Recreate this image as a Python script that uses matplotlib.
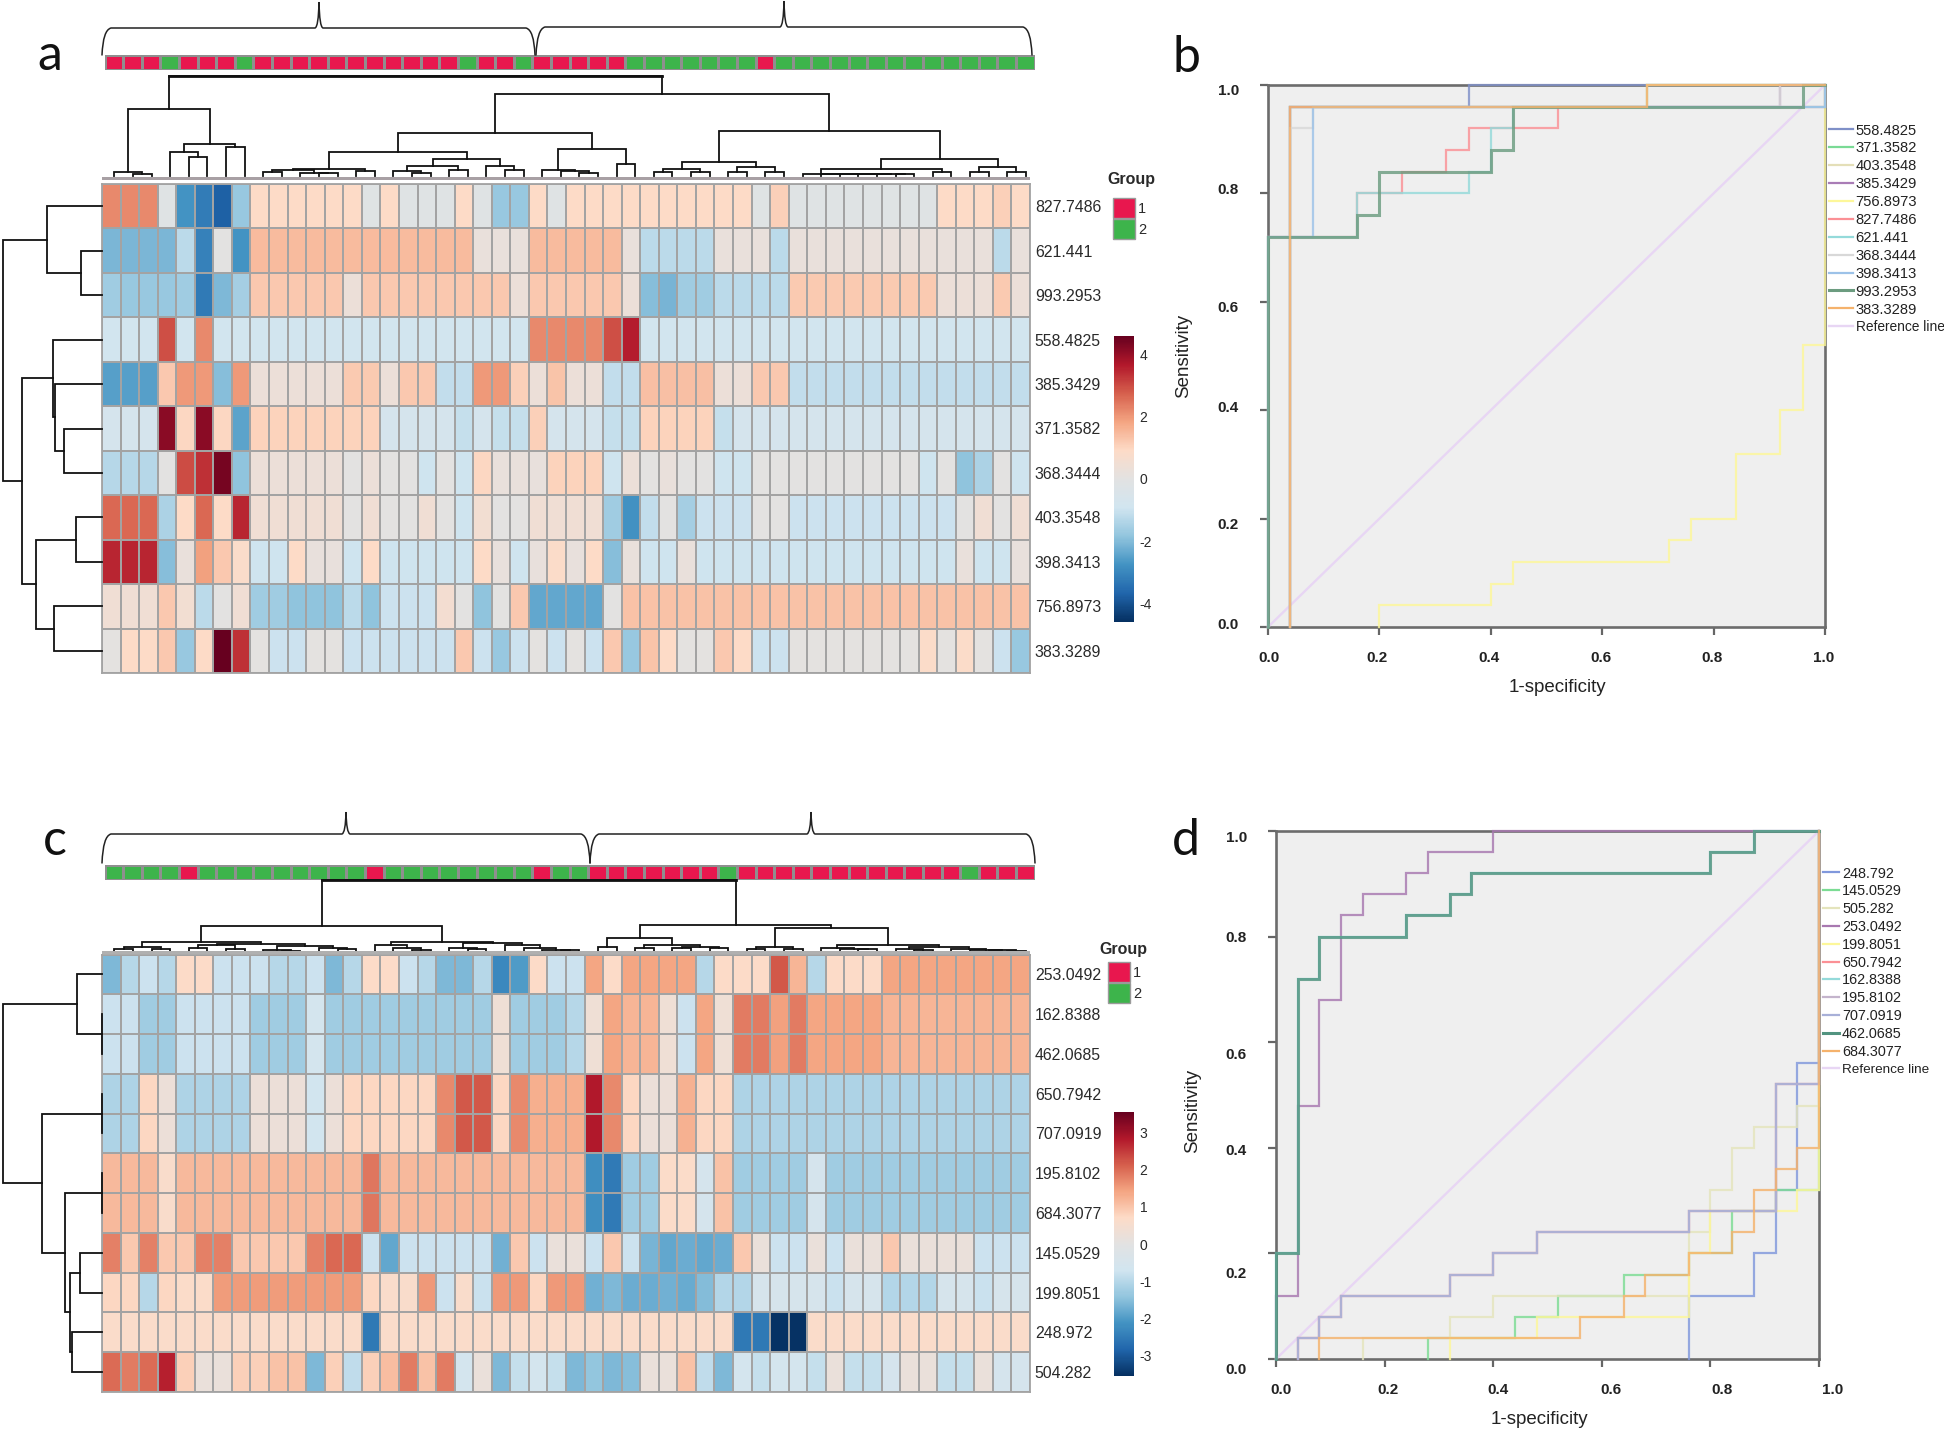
import matplotlib
matplotlib.use("Agg")
import matplotlib.pyplot as plt
import numpy as np
from matplotlib.colors import LinearSegmentedColormap, ListedColormap, Normalize
from matplotlib.lines import Line2D
from matplotlib.patches import PathPatch, Rectangle
from matplotlib.path import Path
from matplotlib.transforms import ScaledTranslation

plt.rcParams['font.family'] = ['Liberation Sans', 'DejaVu Sans']
plt.rcParams['axes.unicode_minus'] = False

W, H = 1944, 1429

# ---------------- panel a data ----------------
rows_a = ['827.7486', '621.441', '993.2953', '558.4825', '385.3429', '371.3582',
          '368.3444', '403.3548', '398.3413', '756.8973', '383.3289']
heat_a = [
 [2.2,2.2,2.2,-.15,-2.75,-3.2,-3.75,-1.75,.9,.9, .9,.9,.9,.9,-.15,.9,-.15,-.15,-.15,.9,
  -.15,-1.75,-1.75,.9,-.15,.9,.9,.9,.9,.9, .9,.9,.9,.9,.9,-.15,1.1,-.15,-.15,-.15,
  -.15,-.15,-.15,-.15,-.15,.9,.9,.9,1.1,.9],
 [-2.1,-2.1,-2.1,-2.1,-1.25,-3.1,0,-2.75,1.45,1.45, 1.45,1.45,1.45,1.45,1.45,1.45,1.45,1.45,1.45,1.45,
  .25,.25,.25,1.45,1.45,1.45,1.45,1.45,.25,-1.25, -1.25,-1.25,-1.25,.25,.25,.25,-1.25,.25,.25,.25,
  .25,.25,.25,.25,.25,.25,.25,.25,-1.25,.25],
 [-1.65,-1.75,-1.75,-1.75,-1.65,-3.25,-2.05,-1.55,1.25,1.25, 1.25,1.25,1.25,.35,1.25,1.25,1.25,1.25,1.25,1.25,
  1.25,1.25,.35,1.25,1.25,1.25,1.25,1.25,.35,-1.95, -2.15,-1.65,-1.65,-1.25,-1.25,-1.25,-1.25,1.2,1.2,1.2,
  1.2,1.2,1.2,1.2,1.2,.35,.35,.35,1.2,.35],
 [-.85,-.85,-.85,2.95,-.85,2.2,-.85,-.85,-.85,-.85, -.85,-.85,-.85,-.85,-.85,-.85,-.85,-.85,-.85,-.85,
  -.85,-.85,-.85,2.2,2.2,2.2,2.2,2.95,3.6,-.85, -.85,-.85,-.85,-.85,-.85,-.85,-.85,-.85,-.85,-.85,
  -.85,-.85,-.85,-.85,-.85,-.85,-.85,-.85,-.85,-.85],
 [-2.55,-2.55,-2.55,1.25,2.0,2.0,-1.95,2.0,.35,.35, .35,.35,.35,1.2,1.2,.35,1.25,1.25,-1.15,-1.15,
  2.0,2.0,1.1,.35,1.3,.35,.35,-1.15,-1.15,1.4, 1.4,1.4,1.4,.35,.35,1.25,1.25,-1.15,-1.15,-1.15,
  -1.15,-1.15,-1.15,-1.15,-1.15,-1.15,-1.15,-1.15,-1.15,-1.15],
 [-.7,-.7,-.7,4.15,1.0,4.15,1.0,-2.45,1.05,1.05, 1.05,1.05,1.05,1.05,1.05,-.7,-.7,-.7,-.7,-1.1,
  -.7,-1.1,-1.1,1.1,-.7,-.7,-.7,-1.1,-1.1,1.05, 1.05,1.05,1.05,-1.1,-.7,-.7,-.7,-.7,-.7,-.7,
  -.7,-.7,-.7,-.7,-.7,-.7,-.7,-.7,-.7,-.7],
 [-1.3,-1.3,-1.3,0,3.0,3.35,4.4,-1.85,.35,.35, .35,.35,.35,0,.35,0,0,-.95,0,-.95,
  1.0,.25,.25,.2,1.05,1.05,1.05,-.95,.35,0, .25,0,0,-.95,-.95,0,0,0,0,0,
  0,0,0,0,-.95,0,-1.85,-1.45,0,-.95],
 [2.65,2.65,2.65,-1.45,.9,2.65,.9,3.5,.5,.5, .5,.5,.5,0,.5,0,0,.5,0,-.95,
  .55,0,0,.5,.5,.5,.5,-1.65,-2.8,-1.15, 0,-1.55,-1.0,-1.0,-1.0,0,0,-1.0,-1.0,-1.0,
  -1.0,-1.0,-1.0,-1.0,-1.0,-1.0,0,.5,0,.5],
 [3.5,3.5,3.5,-1.95,.25,1.9,1.25,.8,-.95,-.95, .9,.2,.2,-.95,.9,-.95,-.95,-.95,-.95,-.95,
  .9,.2,-.95,.2,.85,.2,.9,-1.95,.25,-.95, -.95,.25,-.95,-.95,-.95,-.95,-.95,-.95,-.95,-.95,
  -.95,-.95,-.95,-.95,-.95,-.95,.25,-.95,-.95,.2],
 [.5,.5,.5,1.25,.55,-1.25,0,.5,-1.65,-1.65, -1.85,-1.85,-1.85,-1.25,-1.85,-1.0,-1.0,-1.0,.6,0,
  -1.85,0,1.25,-2.4,-2.4,-2.4,-2.4,0,1.35,1.35, 1.35,1.35,1.35,1.35,1.35,1.35,1.35,1.35,1.35,1.35,
  1.35,1.35,1.35,1.35,1.35,1.35,1.35,1.35,1.35,1.35],
 [.05,.9,.9,1.25,-1.75,.9,4.6,3.35,.05,-1.0, -1.0,.05,.05,-1.0,-1.0,-1.0,-1.0,-1.0,-1.0,1.25,
  -1.0,-1.75,-1.0,.05,-1.0,.05,-1.0,1.25,-1.75,1.3, .9,.05,.05,1.25,.9,-1.0,-1.0,.05,.05,.05,
  .05,.05,.05,.05,.85,.05,.85,.05,-1.0,-1.75],
]
group_a = [1,1,1,2,1,1,1,2,1,1, 1,1,1,1,1,1,1,1,1,2, 1,1,2,1,1,1,1,1,2,2,
           2,2,2,2,2,1,2,2,2,2, 2,2,2,2,2,2,2,2,2,2]
tree_a_top = (299,
  (199, (11, 0, (5, 1, 2)), (96, (71, 3, (57, 4, 5)), (86, 6, 7))),
  (246,
    (128,
      (72,
        (22, (17, (12, 8, 9), (10, 10, (8, 11, 12))), (15, 13, 14)),
        (51, (30, (15, 15, (8, 16, 17)), (19, 18, 19)), (30, 20, (19, 21, 22)))),
      (80, (19, 23, (14, 24, (8, 25, 26))), (37, 27, 28))),
    (134,
      (42, (20, (12, 29, 30), (12, 31, 32)), (28, (12, 33, 34), (12, 35, 36))),
      (51,
        (20, (6, 37, (6, 38, (6, 39, (6, 40, (6, 41, (5, 42, 43)))))), (12, 44, 45)),
        (26, (12, 46, 47), (12, 48, 49))))))
tree_a_left = (295,
  (165, 0, (62, 1, 2)),
  (240,
    (145, 3, (140, 4, (112, 5, 6))),
    (197, (77, 7, 8), (143, 9, 10))))

# ---------------- panel c data ----------------
rows_c = ['253.0492', '162.8388', '462.0685', '650.7942', '707.0919', '195.8102',
          '684.3077', '145.0529', '199.8051', '248.972', '504.282']
heat_c = [
 [-1.6,-1.0,-.75,-1.0,.68,.68,-.75,-.75,-.75,-1.0, -1.0,-.75,-1.6,-1.0,.68,.68,-.75,-1.0,-1.6,-1.6,
  -1.0,-2.3,-2.0,.68,-.75,-.75,1.4,.68,1.4,1.4, 1.4,1.4,-1.0,.68,.68,.68,2.2,1.2,-1.0,.68,
  .68,.68,1.4,1.4,1.4,1.4,1.4,1.4,1.4,1.4],
 [-.75,-.75,-1.25,-1.25,-.75,-.75,-.75,-.75,-1.25,-1.25, -1.25,-.6,-1.25,-1.25,-1.25,-1.25,-1.25,-1.25,-1.25,-1.25,
  -1.25,.35,-1.25,-1.25,-1.25,-1.0,.35,1.4,1.2,1.2, .35,-.75,1.4,.35,1.85,1.85,1.45,1.85,1.4,1.4,
  1.4,1.4,1.2,1.2,1.2,1.2,1.2,1.2,1.2,1.2],
 [-.75,-.75,-1.25,-1.25,-.75,-.75,-.75,-.75,-1.25,-1.25, -1.25,-.6,-1.25,-1.25,-1.25,-1.25,-1.25,-1.25,-1.25,-1.25,
  -1.25,.35,-1.25,-1.25,-1.25,-1.0,.35,1.4,1.2,1.2, .35,-.75,1.4,.35,1.85,1.85,1.45,1.85,1.4,1.4,
  1.4,1.4,1.2,1.2,1.2,1.2,1.2,1.2,1.2,1.2],
 [-1.1,-1.1,.75,.25,-1.1,-1.1,-1.1,-1.1,.25,.25, .25,-.65,.25,.75,.75,.75,.75,.75,1.7,2.2,
  2.2,.75,1.7,1.3,1.3,1.3,2.85,1.7,.75,.25, .25,1.25,.75,.75,-1.1,-1.1,-1.1,-1.1,-1.1,-1.1,
  -1.1,-1.1,-1.1,-1.1,-1.1,-1.1,-1.1,-1.1,-1.1,-1.1],
 [-1.1,-1.1,.75,.25,-1.1,-1.1,-1.1,-1.1,.25,.25, .25,-.65,.25,.75,.75,.75,.75,.75,1.7,2.2,
  2.2,.75,1.7,1.3,1.3,1.3,2.85,1.7,.75,.25, .25,1.25,.75,.75,-1.1,-1.1,-1.1,-1.1,-1.1,-1.1,
  -1.1,-1.1,-1.1,-1.1,-1.1,-1.1,-1.1,-1.1,-1.1,-1.1],
 [1.15,1.15,1.15,.6,1.15,1.15,1.15,1.15,1.15,1.15, 1.15,1.15,1.15,1.15,1.9,1.15,1.15,1.15,1.15,1.15,
  1.15,1.15,1.15,1.15,1.15,1.15,-2.2,-2.5,-1.25,-1.25, .65,.65,-.55,1.05,-1.25,-1.25,-1.25,-1.25,-.55,-1.25,
  -1.25,-1.25,-1.25,-1.25,-1.25,-1.25,-1.25,-1.25,-1.25,-1.25],
 [1.15,1.15,1.15,.6,1.15,1.15,1.15,1.15,1.15,1.15, 1.15,1.15,1.15,1.15,1.9,1.15,1.15,1.15,1.15,1.15,
  1.15,1.15,1.15,1.15,1.15,1.15,-2.2,-2.5,-1.25,-1.25, .65,.65,-.55,1.05,-1.25,-1.25,-1.25,-1.25,-.55,-1.25,
  -1.25,-1.25,-1.25,-1.25,-1.25,-1.25,-1.25,-1.25,-1.25,-1.25],
 [1.8,.95,1.8,.95,.95,1.8,1.8,.95,.95,.95, .95,1.8,2.05,2.05,-.75,-1.85,-.75,-.75,-.75,-.75,
  -.75,-1.7,.95,-.75,.2,.2,-.75,.95,-.75,-1.65, -1.85,-1.75,-1.85,-1.75,.95,.2,-.75,-.75,.2,-.75,
  .2,.2,.95,.2,.2,.2,.2,-.75,-.75,-.75],
 [.75,.75,-1.0,.75,.65,.65,1.5,1.5,1.5,1.5, 1.5,1.5,1.5,1.5,.75,.6,.6,1.55,-.75,.6,
  -.8,1.55,1.55,.75,1.55,1.55,-1.7,-1.6,-1.75,-1.75, -1.7,-1.8,-1.55,-1.05,-1.05,-.5,-.5,-.5,-.5,-.8,
  -.5,-.5,-1.05,-1.05,-1.05,-.5,-.5,-.8,-.5,-.5],
 [.62,.62,.62,.62,.62,.62,.62,.62,.62,.62, .62,.62,.62,.62,-2.55,.62,.62,.62,.62,.62,
  .62,.62,.62,.62,.62,.62,.62,.62,.62,.62, .62,.62,.62,.62,-2.55,-2.55,-3.5,-3.5,.62,.62,
  .62,.62,.62,.62,.62,.62,.62,.62,.62,.62],
 [2.0,1.85,2.0,2.75,.85,.2,.2,.85,.85,1.05, 1.05,-1.6,.85,-.9,.85,1.1,1.85,1.05,1.85,-.6,
  .2,-1.6,-.85,-.6,-.85,-1.6,-1.4,-1.6,-1.5,.2, .2,1.05,-.9,-1.6,-.6,-.85,-.6,-.6,-.85,.2,
  -.85,-.85,-.55,.2,.2,-.85,-.85,.2,-.55,-.55],
]
group_c = [2,2,2,2,1,2,2,2,2,2, 2,2,2,2,1,2,2,2,2,2, 2,2,2,1,2,2,1,1,1,1,
           1,1,1,2,1,1,1,1,1,1, 1,1,1,1,1,1,2,1,1,1]
tree_c_top = (215,
  (76,
    (30,
      (15, (8, 0, 1), (8, 2, 3)),
      (23, (19, (12, 4, 5), (9, 6, 7)), (17, (4, 8, (2, 9, 10)), (12, 11, (8, 12, 13))))),
    (30,
      (20, 14, (11, 15, (6, 16, 17))),
      (25, (12, 18, (8, 19, 20)), (19, 21, (10, 22, (6, 23, (5, 24, 25))))))),
  (80,
    (41, (15, 26, 27), (20, (12, 28, 29), (14, (10, 30, 31), (10, 32, 33)))),
    (70,
      (15, (8, 34, 35), (8, 36, 37)),
      (19, (12, 38, (8, 39, (7, 40, 41))),
           (14, (8, 42, (5, 43, 44)), (8, 45, (5, 46, (4, 47, (3, 48, 49)))))))))
tree_c_left = (295,
  (75, 0, (0, 1, 2)),
  (178,
    (0, 3, 4),
    (110, (0, 5, 6), (95, (65, 7, 8), (88, 9, 10)))))

# ---------------- ROC curves, panel b ----------------
roc_b_labels = ['558.4825', '371.3582', '403.3548', '385.3429', '756.8973', '827.7486',
                '621.441', '368.3444', '398.3413', '993.2953', '383.3289']
roc_b_colors = ['#7f90c8', '#7ada95', '#e4dfb8', '#a97cb6', '#fdf79a', '#fb9095',
                '#94dada', '#d8d8d8', '#9cc2e8', '#6c9c80', '#f5b26c']
roc_b_x = [
 [.04,.04,.36,.36,1],
 [.04,.04,.68,.68,1],
 [.04,.04,.68,.68,1],
 [.04,.04,.92,.92,1],
 [.2,.2,.4,.4,.44,.44,.72,.72,.76,.76,.84,.84,.92,.92,.96,.96,1,1],
 [0,0,.16,.16,.24,.24,.32,.32,.36,.36,.52,.52,1,1],
 [0,0,.16,.16,.36,.36,.40,.40,.44,.44,1,1],
 [.04,.04,.08,.08,.92,.92,1],
 [0,0,.08,.08,1,1],
 [0,0,.16,.16,.2,.2,.40,.40,.44,.44,.96,.96,1],
 [.04,.04,.68,.68,1],
]
roc_b_y = [
 [0,.96,.96,1,1],
 [0,.96,.96,1,1],
 [0,.96,.96,1,1],
 [0,.96,.96,1,1],
 [0,.04,.04,.08,.08,.12,.12,.16,.16,.2,.2,.32,.32,.40,.40,.52,.52,1],
 [0,.72,.72,.8,.8,.84,.84,.88,.88,.92,.92,.96,.96,1],
 [0,.72,.72,.80,.80,.84,.84,.92,.92,.96,.96,1],
 [0,.92,.92,.96,.96,1,1],
 [0,.72,.72,.96,.96,1],
 [0,.72,.72,.76,.76,.84,.84,.88,.88,.96,.96,1,1],
 [0,.96,.96,1,1],
]
# ---------------- ROC curves, panel d ----------------
roc_d_labels = ['248.792', '145.0529', '505.282', '253.0492', '199.8051', '650.7942',
                '162.8388', '195.8102', '707.0919', '462.0685', '684.3077']
roc_d_colors = ['#8098dc', '#7cdc94', '#e4e4bc', '#a878b0', '#fdf79a', '#fb9095',
                '#94dada', '#c4b4cc', '#a8b0d8', '#529480', '#f5b26c']
low_x = [.04,.04,.08,.08,.12,.12,.32,.32,.40,.40,.48,.48,.76,.76,.92,.92,1,1]
low_y = [0,.04,.04,.08,.08,.12,.12,.16,.16,.20,.20,.24,.24,.28,.28,.52,.52,1]
green_x = [0,0,.04,.04,.08,.08,.24,.24,.32,.32,.36,.36,.80,.80,.88,.88,1]
green_y = [0,.2,.2,.72,.72,.8,.8,.84,.84,.88,.88,.92,.92,.96,.96,1,1]
roc_d_x = [
 [.76,.76,.88,.88,.92,.92,.96,.96,1,1],
 [.28,.28,.44,.44,.52,.52,.64,.64,.76,.76,.84,.84,.92,.92,1,1],
 [.16,.16,.32,.32,.40,.40,.76,.76,.80,.80,.84,.84,.88,.88,.96,.96,1,1],
 [0,0,.04,.04,.08,.08,.12,.12,.16,.16,.24,.24,.28,.28,.40,.40,1],
 [.32,.32,.48,.48,.76,.76,.80,.80,.96,.96,1,1],
 low_x, green_x, low_x, low_x, green_x,
 [.08,.08,.56,.56,.64,.64,.68,.68,.76,.76,.84,.84,.88,.88,.92,.92,.96,.96,1,1],
]
roc_d_y = [
 [0,.12,.12,.2,.2,.32,.32,.56,.56,1],
 [0,.04,.04,.08,.08,.12,.12,.16,.16,.20,.20,.28,.28,.32,.32,1],
 [0,.04,.04,.08,.08,.12,.12,.24,.24,.32,.32,.40,.40,.44,.44,.48,.48,1],
 [0,.12,.12,.48,.48,.68,.68,.84,.84,.88,.88,.92,.92,.96,.96,1,1],
 [0,.04,.04,.08,.08,.2,.2,.28,.28,.32,.32,1],
 low_y, green_y, low_y, low_y, green_y,
 [0,.04,.04,.08,.08,.12,.12,.16,.16,.20,.20,.24,.24,.32,.32,.36,.36,.40,.40,1],
]
roc_ticks = [0, .2, .4, .6, .8, 1.0]

# ---------------- helpers ----------------
fig = plt.figure(figsize=(W / 100, H / 100), dpi=100, facecolor='white')

def axpx(x0, y0, x1, y1, **kw):
    return fig.add_axes([x0 / W, 1 - y1 / H, (x1 - x0) / W, (y1 - y0) / H], **kw)

heat_cmap = LinearSegmentedColormap.from_list('rb', [
    '#053061', '#2166AC', '#4393C3', '#92C5DE', '#D1E5F0', '#E2E2E2',
    '#FDDBC7', '#F4A582', '#D6604D', '#B2182B', '#67001F'])
GRID = '#a3a3a3'
TXT = '#2a2a2a'

def draw_tree(ax, node, horizontal=True, lw=1.3, root_lw=None):
    if not isinstance(node, tuple):
        return node + .5, 0
    h, a, b = node
    pa, ha = draw_tree(ax, a, horizontal, lw)
    pb, hb = draw_tree(ax, b, horizontal, lw)
    xs, ys = [pa, pa, pb, pb], [ha, h, h, hb]
    if horizontal:
        ax.plot(xs, ys, color='#111111', lw=lw, solid_joinstyle='miter', clip_on=False)
        if root_lw:
            ax.plot([pa, pb], [h, h], color='#111111', lw=root_lw, clip_on=False)
    else:
        ax.plot(ys, xs, color='#111111', lw=lw, solid_joinstyle='miter', clip_on=False)
    return (pa + pb) / 2, h

def heat_panel(data, rows, groups, top_tree, left_tree, vlim, ticks, box, strip, top_box, left_box,
               group_xy, bar_box):
    x0, y0, x1, y1 = box
    ax = axpx(x0, y0, x1, y1)
    norm = Normalize(-vlim, vlim)
    mesh = ax.pcolormesh(np.array(data), cmap=heat_cmap, norm=norm, edgecolors=GRID, linewidth=1.15)
    ax.set_xlim(0, 50)
    ax.set_ylim(11, 0)
    ax.tick_params(left=False, bottom=False, labelbottom=False, right=False, labelleft=False,
                   labelright=True, pad=3.5, length=0)
    ax.yaxis.tick_right()
    ax.set_yticks(np.arange(11) + .5, rows, fontsize=11.4, color=TXT)
    for s in ax.spines.values():
        s.set_color(GRID)
        s.set_linewidth(1.3)

    st = axpx(*strip)
    st.pcolormesh(np.array(groups)[None, :], cmap=ListedColormap(['#E8174E', '#3DB44B']), vmin=1, vmax=2,
                  edgecolors='#8f8f8f', linewidth=1.0)
    st.set_xlim(0, 50)
    st.axis('off')

    tp = axpx(*top_box)
    draw_tree(tp, top_tree, True, root_lw=2.0)
    tp.set_xlim(0, 50)
    tp.set_ylim(0, top_tree[0])
    tp.axis('off')

    lf = axpx(*left_box)
    draw_tree(lf, left_tree, False)
    lf.set_ylim(11, 0)
    lf.set_xlim(left_tree[0], 0)
    lf.axis('off')

    # group key
    tx, ty, gx, gy = group_xy
    over.text(tx, ty, 'Group', fontsize=11.5, fontweight='bold', ha='center', va='center', color=TXT)
    for i, (c, t) in enumerate(zip(['#E8174E', '#3DB44B'], ['1', '2'])):
        over.add_patch(Rectangle((gx, gy + i * 21), 22, 20, fc=c, ec='#9a9a9a', lw=1))
        over.text(gx + 25, gy + 11 + i * 21, t, fontsize=10.5, ha='left', va='center', color=TXT)

    cax = axpx(*bar_box)
    cb = fig.colorbar(mesh, cax=cax, ticks=ticks)
    cb.outline.set_visible(False)
    cb.ax.tick_params(length=0, labelsize=10, pad=4, labelcolor=TXT)

def brace(x0, xm, x1, y_end, y_h, y_tip):
    r = 9
    verts = [(x0, y_end), (x0 + 1, y_h + 2), (x0 + r, y_h),
             (xm - 4, y_h), (xm - .5, y_h - 1), (xm, y_tip),
             (xm + .5, y_h - 1), (xm + 4, y_h),
             (x1 - r, y_h), (x1 - 1, y_h + 2), (x1, y_end)]
    codes = [Path.MOVETO, Path.CURVE3, Path.CURVE3, Path.LINETO, Path.CURVE3, Path.CURVE3,
             Path.CURVE3, Path.CURVE3, Path.LINETO, Path.CURVE3, Path.CURVE3]
    over.add_patch(PathPatch(Path(verts, codes), fc='none', ec='#222222', lw=1.1, capstyle='round'))

def nudge(label, dx, dy):
    # tick-label displacement in pixels of the picture (y downward)
    label.set_transform(label.get_transform() + ScaledTranslation(dx / 100, -dy / 100, fig.dpi_scale_trans))

def roc_panel(box, labels, colors, xs, ys, legend_xy, handle_len, fs, spacing, xnudge, ynudge):
    ax = axpx(*box)
    ax.set_facecolor('#efefef')
    ax.plot([0, 1], [0, 1], color='#e8d6f4', lw=1.7, zorder=2.6, clip_on=False)
    handles = []
    for lab, col, x, y in zip(labels, colors, xs, ys):
        lw = 2.2 if col in ('#6c9c80', '#529480') else 1.6
        ax.plot(x, y, color=col, lw=lw, alpha=.82, solid_joinstyle='miter', clip_on=False, zorder=3)
        handles.append(Line2D([], [], color=col, lw=lw, label=lab))
    handles.append(Line2D([], [], color='#e8d6f4', lw=1.7, label='Reference line'))
    ax.set_xlim(0, 1)
    ax.set_ylim(0, 1)
    ax.set_xticks(roc_ticks, [f'{v:.1f}' for v in roc_ticks])
    ax.set_yticks(roc_ticks, [f'{v:.1f}' for v in roc_ticks])
    ax.tick_params(axis='x', length=6, width=1.6, color='#666666', pad=11, labelsize=11)
    ax.tick_params(axis='y', length=6, width=1.6, color='#666666', pad=15, labelsize=11)
    for t in ax.get_xticklabels() + ax.get_yticklabels():
        t.set_fontweight('bold')
        t.set_color('#222222')
    for t, d in zip(ax.get_xticklabels(), xnudge):
        nudge(t, d, 0)
    for t, d in zip(ax.get_yticklabels(), ynudge):
        nudge(t, 0, d)
    for s in ax.spines.values():
        s.set_color('#6c6c6c')
        s.set_linewidth(1.9)
    leg = ax.legend(handles=handles, loc='upper left', bbox_to_anchor=legend_xy,
                    bbox_transform=over.transData, frameon=False, fontsize=fs, borderpad=0,
                    borderaxespad=0, handlelength=handle_len, handletextpad=.2, labelspacing=spacing,
                    labelcolor='#222222')
    leg.get_texts()[-1].set_fontsize(fs - .7)

# overlay in pixel coordinates for labels and braces
over = fig.add_axes([0, 0, 1, 1], zorder=10)
over.set_xlim(0, W)
over.set_ylim(H, 0)
over.axis('off')
over.patch.set_alpha(0)

heat_panel(heat_a, rows_a, group_a, tree_a_top, tree_a_left, 4.6, [-4, -2, 0, 2, 4],
           (102, 184, 1030, 673), (104.5, 55, 1034.5, 70), (105, 76, 1035, 176),
           (3.3, 184, 101.7, 673), (1131, 179, 1113, 198), (1114, 336, 1134, 622))
heat_panel(heat_c, rows_c, group_c, tree_c_top, tree_c_left, 3.55, [-3, -2, -1, 0, 1, 2, 3],
           (102, 954.5, 1030, 1392), (104.5, 865, 1034.5, 880), (105, 880, 1035, 951.7),
           (3.3, 954.5, 101.7, 1392), (1123, 949, 1108, 962), (1114, 1112, 1134, 1376))

# thin base bars under the column trees
over.add_patch(Rectangle((102, 177), 928, 3, fc='#a8a0a4', ec='none'))
over.add_patch(Rectangle((102, 951), 928, 3, fc='#b0b0b0', ec='none'))

brace(102, 319, 535, 55, 28, 2)
brace(536, 784, 1032, 55, 27, 1)
brace(102, 346, 590, 863, 834, 812)
brace(590, 811, 1035, 863, 834, 812)

roc_panel((1268, 85, 1825, 627), roc_b_labels, roc_b_colors, roc_b_x, roc_b_y, (1829, 123.5), 1.6, 10.6, .265,
          [1, -2, -2, -1, -2, -1], [-4, 5, -4, 5, -5, 4])
roc_panel((1276, 831, 1819, 1359), roc_d_labels, roc_d_colors, roc_d_x, roc_d_y, (1823, 866.5), 1.12, 10.4, .264,
          [5, 3, 5, 9, 12, 14], [10, 19, 2, 11, 0, 6])

over.text(1557, 687, '1-specificity', fontsize=13.5, ha='center', va='center', color='#222222')
over.text(1184, 356, 'Sensitivity', fontsize=13.5, rotation=90, ha='center', va='center', color='#222222')
over.text(1539, 1419, '1-specificity', fontsize=13.5, ha='center', va='center', color='#222222')
over.text(1193, 1111, 'Sensitivity', fontsize=13.5, rotation=90, ha='center', va='center', color='#222222')

for t, x, y in [('a', 50, 56), ('b', 1186, 58), ('c', 55, 841), ('d', 1186, 841)]:
    over.text(x, y, t, fontsize=36, family='Lato', ha='center', va='center', color='#111111')

fig.savefig('out.png', dpi=100)
